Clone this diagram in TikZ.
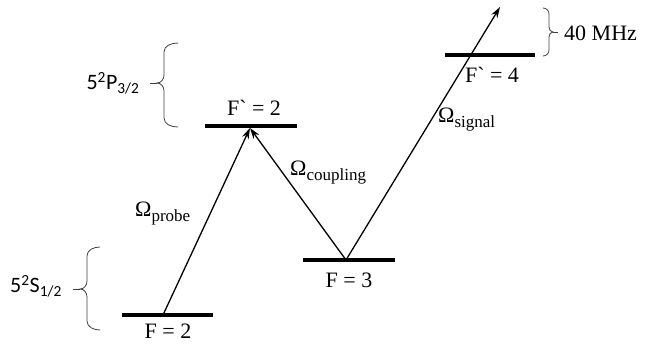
\documentclass[tikz,border=0pt]{standalone}
\usepackage{fontspec}
\setmainfont{Liberation Serif}
\newfontfamily\lblsans{Carlito}
\newfontfamily\gravefont{Liberation Serif}
\usetikzlibrary{arrows.meta}
\newcommand{\gravemark}{{\gravefont`}}
\begin{document}
\begin{tikzpicture}[x=1pt,y=-1pt,
  level/.style={line width=3.8pt},
  trans/.style={line width=1.3pt,-{Stealth[length=11pt,width=7pt]}},
  bracepath/.style={draw=black!75,line width=0.8pt},
  lab/.style={font=\fontsize{22}{26}\selectfont,inner sep=0pt},
  slab/.style={font=\lblsans\fontsize{22}{26}\selectfont,inner sep=0pt}]
\useasboundingbox (0,0) rectangle (652,343);
% levels
\coordinate (g1) at (122,315); \coordinate (g2) at (213,315);
\coordinate (e1) at (205,126); \coordinate (e2) at (297,126);
\coordinate (h1) at (303,260); \coordinate (h2) at (395,260);
\coordinate (f1) at (445,55);  \coordinate (f2) at (535,55);
\draw[level] (g1) -- (g2);
\draw[level] (e1) -- (e2);
\draw[level] (h1) -- (h2);
\draw[level] (f1) -- (f2);
% transition points
\coordinate (pstart) at (163,315);
\coordinate (etop) at (250,128);
\coordinate (hbot) at (346,260);
\coordinate (sigtip) at (500,7);
\draw[trans] (pstart) -- (etop);
\draw[trans] (hbot) -- (etop);
\draw[trans] (hbot) -- (sigtip);
% labels
\node[lab] (lg) at (168,331) {F = 2};
\node[lab] (le) at (254,108) {F\gravemark\ = 2};
\node[lab] (lh) at (349,280) {F = 3};
\node[lab] (lf) at (492,75) {F\gravemark\ = 4};
\node[lab,anchor=west] (op) at (135,214) {Ω\raisebox{-5pt}{\fontsize{17}{17}\selectfont probe}};
\node[lab,anchor=west] (oc) at (290,173) {Ω\raisebox{-5pt}{\fontsize{17}{17}\selectfont coupling}};
\node[lab,anchor=west] (os) at (438,120) {Ω\raisebox{-5pt}{\fontsize{17}{17}\selectfont signal}};
\node[lab,anchor=west] (mhz) at (564,33) {40 MHz};
\node[slab] (lp) at (113,83) {5\textsuperscript{2}P\textsubscript{3/2}};
\node[slab] (ls) at (36,286) {5\textsuperscript{2}S\textsubscript{1/2}};
% braces
\draw[bracepath] (178,43) to[out=180,in=90] (164,52) -- (164,75) to[out=-90,in=0] (157,83) to[out=0,in=90] (164,91) -- (164,118) to[out=-90,in=180] (178,127);
\draw[bracepath] (157,83) -- (150,83);
\draw[bracepath] (100,247) to[out=180,in=90] (87,256) -- (87,281) to[out=-90,in=0] (80,289) to[out=0,in=90] (87,297) -- (87,321) to[out=-90,in=180] (100,330);
\draw[bracepath] (80,289) -- (73,289);
\draw[bracepath] (543,8) to[out=0,in=90] (549,14) -- (549,27) to[out=-90,in=180] (553,32) to[out=180,in=90] (549,37) -- (549,50) to[out=-90,in=0] (543,56);
\draw[bracepath] (553,32) -- (558,32);
\end{tikzpicture}
\end{document}
